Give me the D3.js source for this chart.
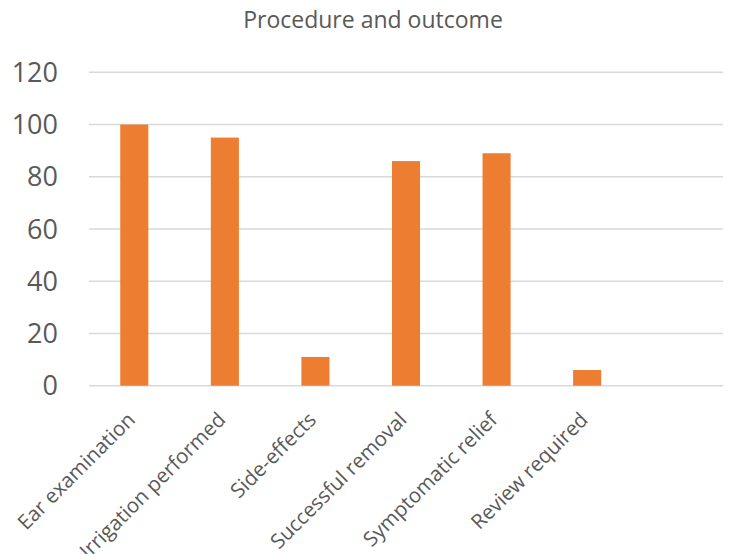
<!DOCTYPE html>
<html><head><meta charset="utf-8">
<script src="https://cdn.jsdelivr.net/npm/d3@7"></script>
<style>body{margin:0;background:#fff}svg{display:block}</style>
</head><body>
<svg id="c" width="731" height="554"></svg>
<script>
const categories = ["Ear examination","Irrigation performed","Side-effects","Successful removal","Symptomatic relief","Review required",""];
const values = [100,95,11,86,89,6,null];
const yTicks = [0,20,40,60,80,100,120];
const title = "Procedure and outcome";

const svg = d3.select("#c");
const font = "'Open Sans', sans-serif";
const textColor = "#595959";
const x = d3.scaleBand().domain(categories.map((d,i)=>i)).range([89,723]).paddingInner(0.69).paddingOuter(0.345);
const y = d3.scaleLinear().domain([0,120]).range([385.7,72.3]);

svg.append("g").selectAll("line").data(yTicks).join("line")
  .attr("x1",89).attr("x2",723).attr("y1",d=>y(d)).attr("y2",d=>y(d))
  .attr("stroke","#d9d9d9").attr("stroke-width",1.5);

svg.append("g").selectAll("text").data(yTicks).join("text")
  .attr("x",58).attr("y",d=>y(d)).attr("dy","0.36em").attr("text-anchor","end")
  .attr("font-family",font).attr("font-size",27).attr("fill",textColor).text(d=>d);

const data = categories.map((c,i)=>({c,i,v:values[i]})).filter(d=>d.v!=null);
svg.append("g").selectAll("rect").data(data).join("rect")
  .attr("x",d=>x(d.i)).attr("width",x.bandwidth())
  .attr("y",d=>y(d.v)).attr("height",d=>y(0)-y(d.v))
  .attr("fill","#ed7d31");

svg.append("g").selectAll("text").data(categories.map((c,i)=>({c,i}))).join("text")
  .attr("transform",d=>`translate(${x(d.i)+x.bandwidth()/2+2},${421}) rotate(-45)`)
  .attr("text-anchor","end")
  .attr("font-family",font).attr("font-size",20.5).attr("fill",textColor).text(d=>d.c);

svg.append("text").attr("x",373).attr("y",28).attr("text-anchor","middle")
  .attr("font-family",font).attr("font-size",23).attr("fill",textColor).text(title);
</script>
</body></html>
